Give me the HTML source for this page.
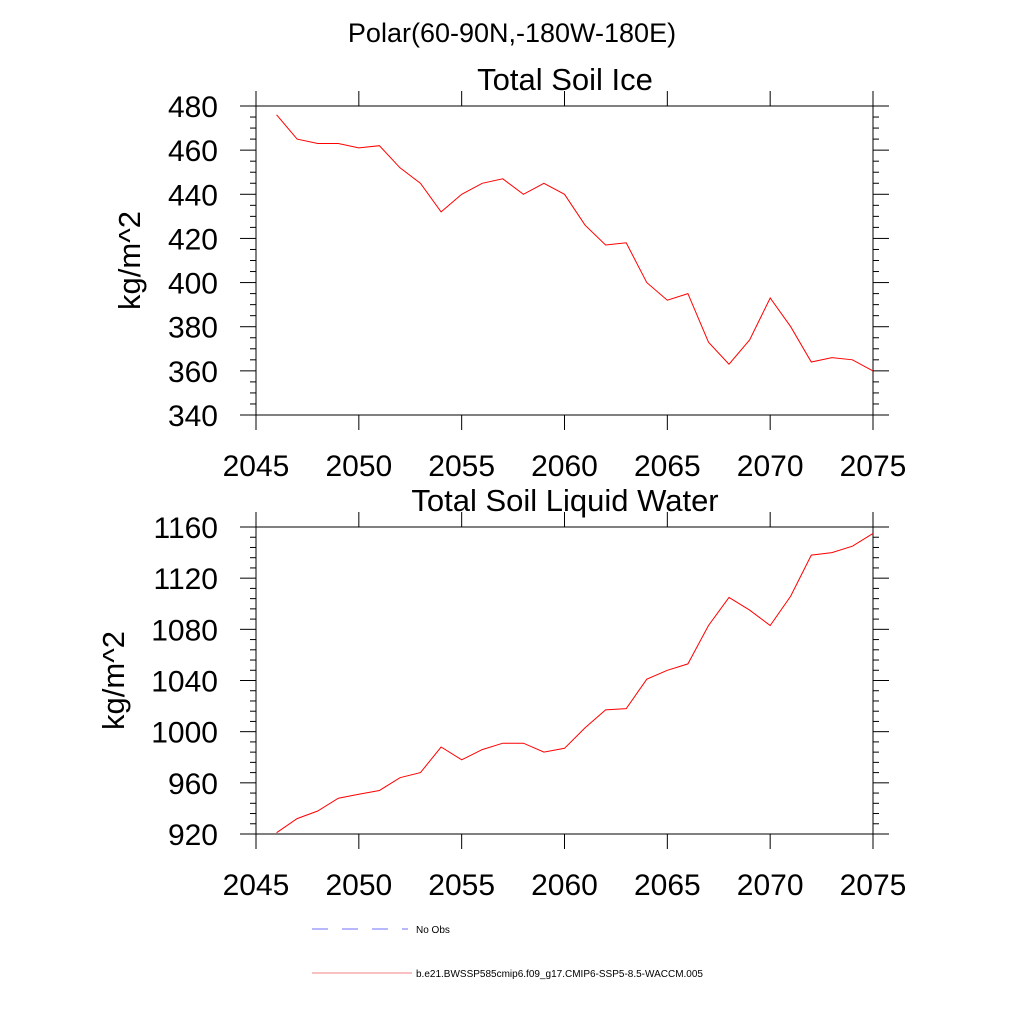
<!DOCTYPE html>
<html><head><meta charset="utf-8"><style>
html,body{margin:0;padding:0;background:#fff;}
svg{display:block;font-family:"Liberation Sans",Arial,sans-serif;}
</style></head><body>
<svg id="chart" width="1024" height="1024" viewBox="0 0 1024 1024">
<text x="512" y="42" font-size="27" text-anchor="middle">Polar(60-90N,-180W-180E)</text>
<g id="p1"></g>
<g id="p2"></g>
<g>
<line x1="312" y1="929" x2="408" y2="929" stroke="#7070ff" stroke-width="1" stroke-dasharray="16,14"/>
<text x="416" y="933" font-size="10">No Obs</text>
<line x1="312" y1="973" x2="412" y2="973" stroke="#f08080" stroke-width="1"/>
<text x="416" y="977" font-size="10">b.e21.BWSSP585cmip6.f09_g17.CMIP6-SSP5-8.5-WACCM.005</text>
</g>
</svg>
<script>
const years=[2046,2047,2048,2049,2050,2051,2052,2053,2054,2055,2056,2057,2058,2059,2060,2061,2062,2063,2064,2065,2066,2067,2068,2069,2070,2071,2072,2073,2074,2075];
const iceValues=[476,465,463,463,461,462,452,445,432,440,445,447,440,445,440,426,417,418,400,392,395,373,363,374,393,380,364,366,365,360];
const liquidValues=[921,932,938,948,951,954,964,968,988,978,986,991,991,984,987,1003,1017,1018,1041,1048,1053,1083,1105,1095,1083,1106,1138,1140,1145,1155];
const xTicks=[2045,2050,2055,2060,2065,2070,2075];
const iceTicks=[340,360,380,400,420,440,460,480];
const liquidTicks=[920,960,1000,1040,1080,1120,1160];
const NS="http://www.w3.org/2000/svg";
function mk(parent,tag,attrs){const e=document.createElementNS(NS,tag);for(const k in attrs)e.setAttribute(k,attrs[k]);parent.appendChild(e);return e;}
function panel(g,cfg){
  const L=256,R=873,T=cfg.top,B=cfg.bottom;
  const xs=v=>L+(v-2045)/30*(R-L);
  const ys=v=>B-(v-cfg.min)/(cfg.max-cfg.min)*(B-T);
  const box=mk(g,'rect',{x:L,y:T,width:R-L,height:B-T,fill:'none',stroke:'#000','stroke-width':1});
  
  
  for(let v=cfg.min;v<=cfg.max+1e-9;v+=cfg.minor){
    const isMajor=Math.abs((v-cfg.min)%cfg.major)<1e-6;
    const len=isMajor?16:6,y=ys(v);
    const t1=mk(g,'line',{x1:L-len,y1:y,x2:L,y2:y,stroke:'#000','stroke-width':1});
    
    
    const t2=mk(g,'line',{x1:R,y1:y,x2:R+len,y2:y,stroke:'#000','stroke-width':1});
    
    
  }
  cfg.ticks.forEach(v=>{
    const t=mk(g,'text',{x:L-38,y:ys(v)+11,'font-size':30,'text-anchor':'end'});
    t.textContent=v;
    
    
  });
  xTicks.forEach(v=>{
    const x=xs(v);
    const a=mk(g,'line',{x1:x,y1:T-15,x2:x,y2:T,stroke:'#000','stroke-width':1});
    
    
    const b=mk(g,'line',{x1:x,y1:B,x2:x,y2:B+15,stroke:'#000','stroke-width':1});
    
    
    const t=mk(g,'text',{x:x,y:B+61,'font-size':30,'text-anchor':'middle'});
    t.textContent=v;
    
    
  });
  const ti=mk(g,'text',{x:565,y:T-16,'font-size':31,'text-anchor':'middle'});
  ti.textContent=cfg.title;
  
  
  const yl=mk(g,'text',{x:0,y:0,'font-size':31,'text-anchor':'middle',transform:`translate(${cfg.ylx},${(T+B)/2}) rotate(-90)`});
  yl.textContent='kg/m^2';
  
  
  const pts=years.map((y,i)=>xs(y).toFixed(1)+','+ys(cfg.vals[i]).toFixed(1)).join(' ');
  const pl=mk(g,'polyline',{points:pts,fill:'none',stroke:'#ff0000','stroke-width':1});
  
  
}
panel(document.getElementById('p1'),{top:106,bottom:415,min:340,max:480,major:20,minor:5,ticks:iceTicks,vals:iceValues,title:'Total Soil Ice',ylx:140});
panel(document.getElementById('p2'),{top:527,bottom:834,min:920,max:1160,major:40,minor:8,ticks:liquidTicks,vals:liquidValues,title:'Total Soil Liquid Water',ylx:124});
</script>
</body></html>
